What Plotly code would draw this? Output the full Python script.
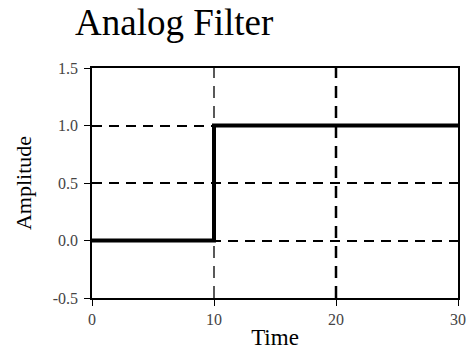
import plotly.graph_objects as go

# Data
time = [0, 10, 10, 30]
amplitude = [0, 0, 1, 1]
x_ticks = [0, 10, 20, 30]
x_tick_labels = ["0", "10", "20", "30"]
y_ticks = [-0.5, 0.0, 0.5, 1.0, 1.5]
y_tick_labels = ["-0.5", "0.0", "0.5", "1.0", "1.5"]
v_grid = [10, 20]
v_grid_widths = [1.3, 2.5]

FONT = "Liberation Serif, Times New Roman, serif"
W, H = 468, 356

fig = go.Figure()
fig.add_trace(go.Scatter(x=time, y=amplitude, mode="lines",
                         line=dict(color="black", width=4), showlegend=False,
                         hoverinfo="skip"))

for gx, gw in zip(v_grid, v_grid_widths):
    fig.add_shape(type="line", xref="x", yref="paper", x0=gx, x1=gx, y0=0, y1=1,
                  line=dict(color="black", width=gw, dash="12px,8px"), layer="below")

fig.update_layout(
    width=W, height=H,
    margin=dict(l=92, r=10, t=68, b=58, autoexpand=False),
    paper_bgcolor="white", plot_bgcolor="white",
    font=dict(family=FONT, color="black"),
    title=dict(text="Analog Filter", font=dict(family=FONT, size=37, color="black"),
               xref="container", yref="container", x=75/W, xanchor="left",
               y=1 - 9/H, yanchor="top"),
    xaxis=dict(range=[0, 30], tickvals=x_ticks, ticktext=x_tick_labels,
               showgrid=False, zeroline=False,
               showline=True, linecolor="black", linewidth=1.5, mirror=True,
               ticks="outside", ticklen=6, tickwidth=1, tickcolor="black",
               tickfont=dict(size=16, color="#444"),
               title=dict(text="Time", font=dict(size=23), standoff=2)),
    yaxis=dict(range=[-0.5, 1.5], tickvals=y_ticks, ticktext=y_tick_labels,
               showgrid=True, gridcolor="black", gridwidth=2, griddash="10px,7px",
               zeroline=False,
               showline=True, linecolor="black", linewidth=1.5, mirror=True,
               ticks="outside", ticklen=6, tickwidth=1, tickcolor="black",
               ticklabelstandoff=3,
               tickfont=dict(size=16, color="#444"),
               title=dict(text="Amplitude", font=dict(size=22), standoff=15)),
)

fig.write_html("out.html", config={"displayModeBar": False},
               post_script="document.body.style.margin='0';document.body.style.overflow='hidden';")
